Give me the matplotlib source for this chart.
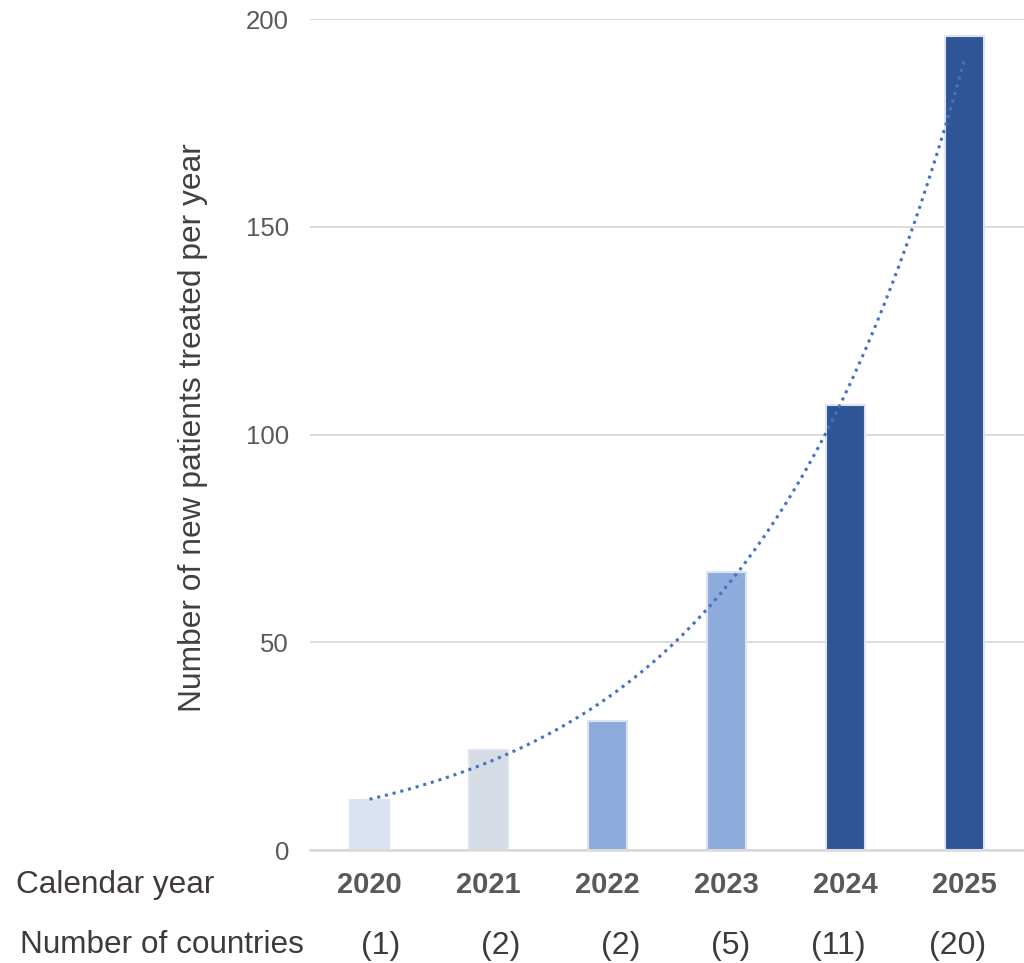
import numpy as np
import matplotlib
matplotlib.use("Agg")
import matplotlib.pyplot as plt
import matplotlib.transforms as mtransforms

years = ["2020", "2021", "2022", "2023", "2024", "2025"]
patients = [12, 24, 31, 67, 107, 196]
countries = ["(1)", "(2)", "(2)", "(5)", "(11)", "(20)"]
bar_colors = ["#DAE3F3", "#D6DCE5", "#8FAADC", "#8FAADC", "#2F5597", "#2F5597"]
yticks = [0, 50, 100, 150, 200]
# horizontal nudges (pixels) of the country-count labels, as placed in the original
country_nudge_px = [11, 12, 13, 4, -7, -7]

plt.rcParams['font.family'] = ['Liberation Sans', 'DejaVu Sans']

fig = plt.figure(figsize=(10.24, 9.63), dpi=100)
ax = fig.add_axes([310/1024, 1-850/963, 1-310/1024, (850-19)/963])

x = np.arange(len(years))
ax.bar(x, patients, width=0.32, color=bar_colors, edgecolor="#DCE4F2", linewidth=1.5, zorder=3)

# exponential trendline (least squares on log values)
b, a = np.polyfit(x, np.log(patients), 1)
xs = np.linspace(0, len(years)-1, 300)
ax.plot(xs, np.exp(a + b*xs), color="#4472C4", linestyle=(0, (1, 1.6)), linewidth=2.2, zorder=4)

ax.set_xlim(-0.5, len(years)-0.5)
ax.set_ylim(0, 200)
ax.set_yticks(yticks)
ax.yaxis.grid(True, color="#D9D9D9", linewidth=1.3, zorder=0)
ax.set_axisbelow(True)
for s in ["top", "right", "left"]:
    ax.spines[s].set_visible(False)
ax.spines["bottom"].set_color("#D9D9D9")
ax.spines["bottom"].set_linewidth(1.8)
ax.spines["bottom"].set_zorder(5)
ax.tick_params(axis="y", length=0, pad=15, labelsize=18.5, labelcolor="#595959")
ax.tick_params(axis="x", length=0, pad=0)
ax.set_xticks(x)
ax.set_xticklabels([])

trans = mtransforms.blended_transform_factory(ax.transData, fig.transFigure)
for i in range(len(years)):
    ax.text(x[i], 1-885/963, years[i], transform=trans, ha="center", va="center",
            fontsize=21, fontweight="bold", color="#595959")
    off = mtransforms.offset_copy(trans, fig=fig, x=country_nudge_px[i], y=0, units="dots")
    ax.text(x[i], 1-946/963, countries[i], transform=off, ha="center", va="center",
            fontsize=23, color="#403A38")

fig.text(16/1024, 1-885/963, "Calendar year", ha="left", va="center", fontsize=22.7, color="#403A38")
fig.text(20/1024, 1-945/963, "Number of countries", ha="left", va="center", fontsize=22.7, color="#403A38")
fig.text(193/1024, 1-428/963, "Number of new patients treated per year", rotation=90,
         ha="center", va="center", fontsize=22.9, color="#404040")

fig.savefig("out.png", dpi=100)
